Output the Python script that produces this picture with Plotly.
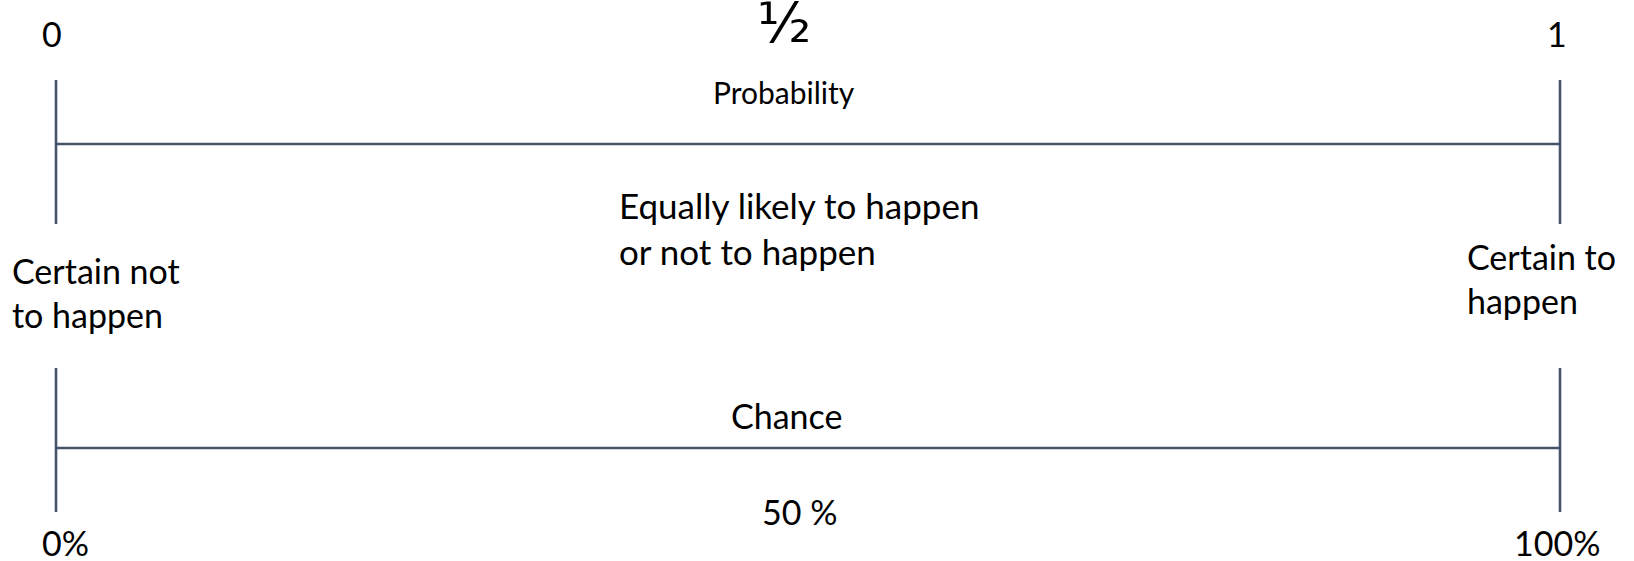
import plotly.graph_objects as go

# ---- data ----
prob_ticks = [0, 0.5, 1]
prob_labels = ["0", "½", "1"]
chance_ticks = [0, 0.5, 1]
chance_labels = ["0%", "50 %", "100%"]
scale_titles = ["Probability", "Chance"]
desc_left = "Certain not<br>to happen"
desc_mid = "Equally likely to happen<br>or not to happen"
desc_right = "Certain to<br>happen"

W, H = 1634, 561
X0_PX, X1_PX = 56, 1560
span = X1_PX - X0_PX
xr = [-X0_PX / span, (W - X0_PX) / span]

LINE = dict(color="#44546A", width=2.6)
FONT = "Lato"
TXT = "#000000"

fig = go.Figure()

def scale(y_line, y_top, y_bot):
    fig.add_trace(go.Scatter(x=[prob_ticks[0], prob_ticks[-1]], y=[y_line, y_line],
                             mode="lines", line=LINE, hoverinfo="skip", showlegend=False))
    for t in (prob_ticks[0], prob_ticks[-1]):
        fig.add_trace(go.Scatter(x=[t, t], y=[y_top, y_bot], mode="lines",
                                 line=LINE, hoverinfo="skip", showlegend=False))

scale(144, 80, 224)
scale(448, 368, 512)

def ann(text, x, y, size, xref="x", xanchor="center", xshift=0, align="center", family=FONT):
    fig.add_annotation(text=text, x=x, y=y, xref=xref, yref="y", showarrow=False,
                       xanchor=xanchor, yanchor="middle", xshift=xshift, align=align,
                       font=dict(family=family, size=size, color=TXT))

S = 34
# probability tick labels
ann(prob_labels[0], prob_ticks[0], 33.5, S, xshift=-4)
ann(prob_labels[1], prob_ticks[1], 22, 56, xshift=-24, family="DejaVu Sans")
ann(prob_labels[2], prob_ticks[2], 33.5, S, xshift=-3)
ann(scale_titles[0], prob_ticks[1], 92, 30, xshift=-24)

# descriptions
ann(desc_mid, 617 / W, 228, 35, xref="paper", xanchor="left", align="left")
ann(desc_left, 10 / W, 292.5, S, xref="paper", xanchor="left", align="left")
ann(desc_right, 1465 / W, 278, S, xref="paper", xanchor="left", align="left")

# chance
ann(scale_titles[1], chance_ticks[1], 415, S, xshift=-22)
ann(chance_labels[0], chance_ticks[0], 542, S, xshift=9)
ann(chance_labels[1], chance_ticks[1], 511.5, S, xshift=-9)
ann(chance_labels[2], chance_ticks[2], 542, S, xshift=-3)

fig.update_layout(
    width=W, height=H, autosize=False,
    margin=dict(l=0, r=0, t=0, b=0, pad=0),
    paper_bgcolor="white", plot_bgcolor="white",
    xaxis=dict(range=xr, visible=False, fixedrange=True),
    yaxis=dict(range=[H, 0], visible=False, fixedrange=True),
    showlegend=False,
)

fig.write_html("out.html", config={"displayModeBar": False},
               post_script="document.body.style.margin='0';")
